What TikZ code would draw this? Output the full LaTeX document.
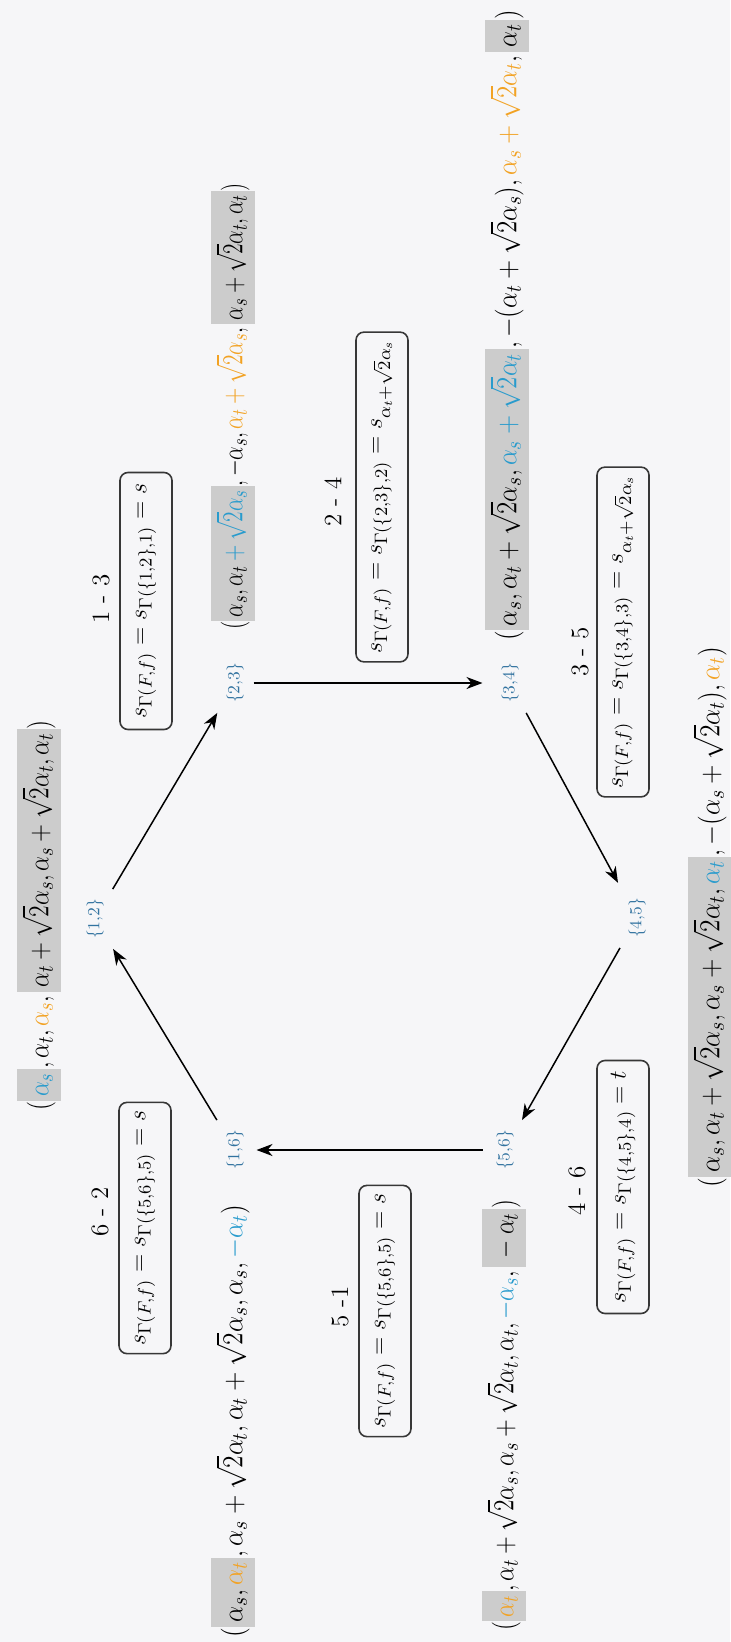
\documentclass[tikz,border=0pt]{standalone}
\usepackage{amsmath}
\usetikzlibrary{arrows.meta}
\definecolor{bg}{RGB}{246,246,248}
\definecolor{hlg}{RGB}{204,204,204}
\definecolor{ablue}{RGB}{40,155,205}
\definecolor{aorange}{RGB}{242,162,35}
\definecolor{lblue}{RGB}{50,115,160}
\definecolor{boxc}{RGB}{55,55,55}
\newcommand{\hlx}[1]{{\setlength{\fboxsep}{2.5pt}\colorbox{hlg}{$\vphantom{\sqrt{2}()}#1$}}}
\newcommand{\cbl}[1]{{\color{ablue}#1}}
\newcommand{\cor}[1]{{\color{aorange}#1}}
\newcommand{\tupl}[2]{\resizebox{#1}{\height}{$#2$}}
\begin{document}
\begin{tikzpicture}[x=0.5pt,y=-0.5pt,
  tup/.style={rotate=90, font=\fontsize{15}{18}\selectfont, inner sep=0pt},
  lab/.style={rotate=90, text=lblue, font=\fontsize{8.5}{10}\selectfont, inner sep=5pt, outer sep=0pt},
  num/.style={rotate=90, font=\fontsize{12.5}{15}\selectfont, inner sep=1pt},
  sbox/.style={rotate=90, draw=boxc, line width=0.8pt, rounded corners=4pt, fill=bg,
    minimum height=26pt, inner xsep=4pt, font=\fontsize{12.5}{14}\selectfont},
  arr/.style={-{Stealth[length=8pt,width=6pt,inset=2.5pt]}, line width=0.75pt}]
\fill[bg] (0,0) rectangle (730,1642);
\useasboundingbox (0,0) rectangle (730,1642);

% vertex labels
\node[lab] (n12) at (95,919) {\{1,2\}};
\node[lab] (n23) at (235,683) {\{2,3\}};
\node[lab] (n34) at (510,683) {\{3,4\}};
\node[lab] (n45) at (637,918) {\{4,5\}};
\node[lab] (n56) at (505,1150) {\{5,6\}};
\node[lab] (n16) at (235,1150) {\{1,6\}};

% arrows
\draw[arr] (n16) -- (n12);
\draw[arr] (n12) -- (n23);
\draw[arr,shorten >=4.5pt] (n23) -- (n34);
\draw[arr,shorten >=3pt] (n34) -- (n45);
\draw[arr] (n45) -- (n56);
\draw[arr,shorten <=2pt,shorten >=1.5pt] (n56) -- (n16);

% tuples
\node[tup] (t12) at (39,915) {\tupl{195pt}{(\hlx{\cbl{\alpha_s}},\alpha_t,\cor{\alpha_s},\hlx{\alpha_t+\sqrt{2}\alpha_s,\alpha_s+\sqrt{2}\alpha_t,\alpha_t})}};
\node[tup] (t23) at (233,406) {\tupl{223pt}{(\hlx{\alpha_s,\alpha_t\cbl{{}+\sqrt{2}\alpha_s}},-\alpha_s,\cor{\alpha_t+\sqrt{2}\alpha_s},\hlx{\alpha_s+\sqrt{2}\alpha_t,\alpha_t})}};
\node[tup] (t34) at (507,325) {\tupl{315pt}{(\hlx{\alpha_s,\alpha_t+\sqrt{2}\alpha_s,\cbl{\alpha_s+\sqrt{2}\alpha_t}},-(\alpha_t+\sqrt{2}\alpha_s),\cor{\alpha_s+\sqrt{2}\alpha_t},\hlx{\alpha_t})}};
\node[tup] (t16) at (233,1421) {\tupl{216pt}{(\hlx{\alpha_s,\cor{\alpha_t}},\alpha_s+\sqrt{2}\alpha_t,\alpha_t+\sqrt{2}\alpha_s,\alpha_s,\cbl{-\alpha_t})}};
\node[tup] (t56) at (504,1415) {\tupl{215pt}{(\hlx{\cor{\alpha_t}},\alpha_t+\sqrt{2}\alpha_s,\alpha_s+\sqrt{2}\alpha_t,\alpha_t,\cbl{-\alpha_s},\hlx{-\alpha_t})}};
\node[tup] (t45) at (710,917) {\tupl{270pt}{(\hlx{\alpha_s,\alpha_t+\sqrt{2}\alpha_s,\alpha_s+\sqrt{2}\alpha_t,\cbl{\alpha_t}},-(\alpha_s+\sqrt{2}\alpha_t),\cor{\alpha_t})}};

% step labels
\node[num] (l62) at (100,1212) {6 - 2};
\node[num] (l13) at (101,599) {1 - 3};
\node[num] (l24) at (333,502) {2 - 4};
\node[num] (l51) at (340,1307) {5 -1};
\node[num] (l35) at (580,652) {3 - 5};
\node[num] (l46) at (577,1191) {4 - 6};

% boxes
\node[sbox,minimum width=125.5pt] (b62) at (145,1228) {$s_{\Gamma(F,f)}=s_{\Gamma(\{5,6\},5)}=s$};
\node[sbox,minimum width=128.5pt] (b13) at (146,601) {$s_{\Gamma(F,f)}=s_{\Gamma(\{1,2\},1)}=s$};
\node[sbox,minimum width=153.5pt] (b24) at (382,497) {$s_{\Gamma(F,f)}=s_{\Gamma(\{2,3\},2)}=s_{\alpha_t+\sqrt{2}\alpha_s}$};
\node[sbox,minimum width=125.5pt] (b51) at (385,1311) {$s_{\Gamma(F,f)}=s_{\Gamma(\{5,6\},5)}=s$};
\node[sbox,minimum width=158.5pt] (b35) at (623,632) {$s_{\Gamma(F,f)}=s_{\Gamma(\{3,4\},3)}=s_{\alpha_t+\sqrt{2}\alpha_s}$};
\node[sbox,minimum width=126.5pt] (b46) at (623,1187) {$s_{\Gamma(F,f)}=s_{\Gamma(\{4,5\},4)}=t$};
\end{tikzpicture}
\end{document}
